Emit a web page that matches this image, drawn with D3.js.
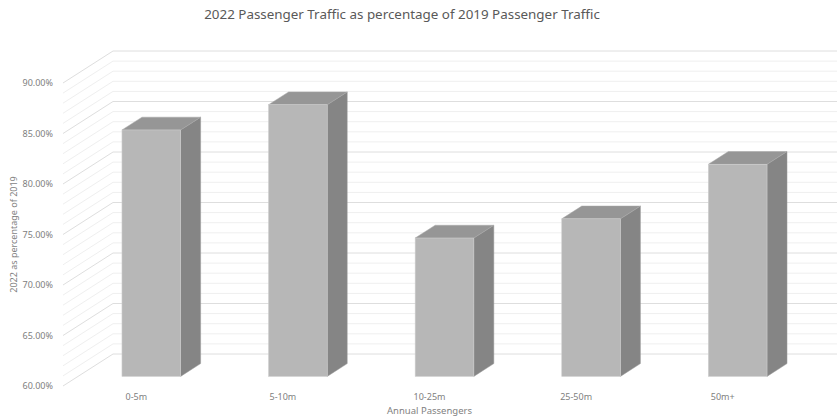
<!DOCTYPE html>
<html>
<head>
<meta charset="utf-8">
<script src="https://cdn.jsdelivr.net/npm/d3@7"></script>
<style>
  body { margin: 0; background: #fff; }
  svg text { font-family: "Noto Sans", "Open Sans", sans-serif; }
</style>
</head>
<body>
<svg id="chart" width="837" height="419"></svg>
<script>
// ----------------- DATA -----------------
var categories = ["0-5m", "5-10m", "10-25m", "25-50m", "50m+"];
var values = [84.4, 86.9, 73.7, 75.6, 81.0];      // 2022 as % of 2019
var yTicks = [60, 65, 70, 75, 80, 85, 90];

// ----------------- LAYOUT -----------------
var W = 837, H = 419;
var front = {left: 63, right: 796, top: 83, bottom: 386};
var depth = {dx: 50, dy: -32};          // offset from front plane to back wall
var barDepth = [0.3, 0.7];               // bar sits in middle of the depth

var svg = d3.select("#chart");

var x = d3.scaleBand()
    .domain(categories)
    .range([front.left, front.right])
    .paddingInner(0.6)
    .paddingOuter(0.3);

var y = d3.scaleLinear()
    .domain([60, 90])
    .range([front.bottom, front.top]);

function off(f) { return [depth.dx * f, depth.dy * f]; }

// ----------------- GRID -----------------
var minor = d3.range(60, 91, 1);
var grid = svg.append("g");

minor.forEach(function(v) {
    var major = v % 5 === 0;
    var col = major ? "#dedede" : "#efefef";
    var yb = y(v) + depth.dy;
    // side wall diagonal
    grid.append("line")
        .attr("x1", front.left).attr("y1", y(v))
        .attr("x2", front.left + depth.dx).attr("y2", yb)
        .attr("stroke", col).attr("stroke-width", 1);
    // back wall
    grid.append("line")
        .attr("x1", front.left + depth.dx).attr("y1", yb)
        .attr("x2", W).attr("y2", yb)
        .attr("stroke", col).attr("stroke-width", 1);
});

// ----------------- BARS -----------------
var bars = svg.append("g");
var o0 = off(barDepth[0]), o1 = off(barDepth[1]);
var bw = x.bandwidth();

categories.forEach(function(c, i) {
    var xl = x(c) + o0[0], xr = xl + bw;
    var yt = y(values[i]) + o0[1], yb = y(60) + o0[1];
    var ddx = o1[0] - o0[0], ddy = o1[1] - o0[1];

    // side
    bars.append("polygon")
        .attr("points", [[xr, yt], [xr + ddx, yt + ddy], [xr + ddx, yb + ddy], [xr, yb]].join(" "))
        .attr("fill", "#858585").attr("stroke", "#9a9a9a").attr("stroke-width", 0.5);
    // top
    bars.append("polygon")
        .attr("points", [[xl, yt], [xl + ddx, yt + ddy], [xr + ddx, yt + ddy], [xr, yt]].join(" "))
        .attr("fill", "#969696").attr("stroke", "#a8a8a8").attr("stroke-width", 0.5);
    // front
    bars.append("rect")
        .attr("x", xl).attr("y", yt)
        .attr("width", bw).attr("height", yb - yt)
        .attr("fill", "#b7b7b7").attr("stroke", "#cdcdcd").attr("stroke-width", 0.6);
});

// ----------------- AXES -----------------
svg.append("g").selectAll("text")
    .data(yTicks)
    .join("text")
    .attr("x", 53)
    .attr("y", function(d) { return y(d); })
    .attr("dy", "0.35em")
    .attr("text-anchor", "end")
    .attr("fill", "#808080")
    .style("font-size", "9px")
    .text(function(d) { return d.toFixed(2) + "%"; });

svg.append("g").selectAll("text")
    .data(categories)
    .join("text")
    .attr("x", function(d) { return x(d) + bw / 2; })
    .attr("y", 397)
    .attr("dy", "0.35em")
    .attr("text-anchor", "middle")
    .attr("fill", "#808080")
    .style("font-size", "9px")
    .text(function(d) { return d; });

svg.append("text")
    .attr("x", (front.left + front.right) / 2)
    .attr("y", 410.5)
    .attr("dy", "0.35em")
    .attr("text-anchor", "middle")
    .attr("fill", "#7f7f7f")
    .style("font-size", "9.5px")
    .text("Annual Passengers");

svg.append("text")
    .attr("transform", "translate(14," + ((front.top + front.bottom) / 2) + ") rotate(-90)")
    .attr("dy", "0.35em")
    .attr("text-anchor", "middle")
    .attr("fill", "#7f7f7f")
    .style("font-size", "9px")
    .text("2022 as percentage of 2019");

svg.append("text")
    .attr("x", 402)
    .attr("y", 14)
    .attr("dy", "0.35em")
    .attr("text-anchor", "middle")
    .attr("fill", "#595959")
    .style("font-size", "13.4px")
    .text("2022 Passenger Traffic as percentage of 2019 Passenger Traffic");
</script>
</body>
</html>
